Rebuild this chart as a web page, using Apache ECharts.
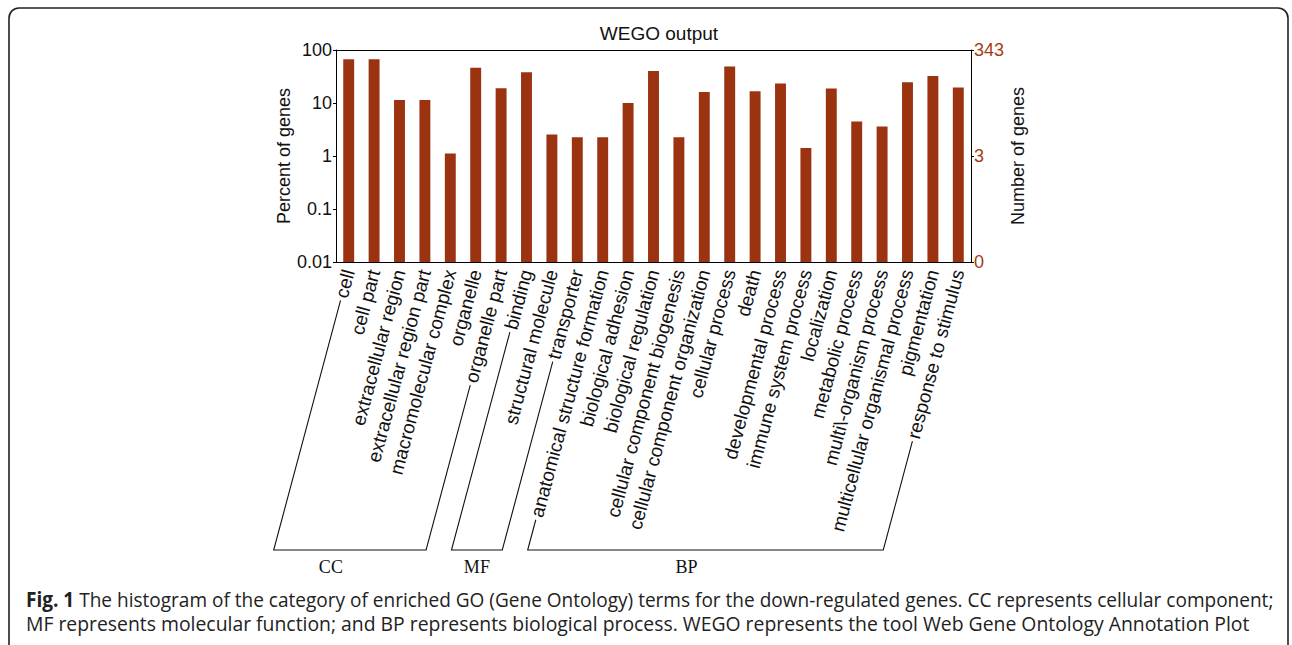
<!DOCTYPE html>
<html><head><meta charset="utf-8">
<script src="https://cdn.jsdelivr.net/npm/echarts@6/dist/echarts.min.js"></script>
<style>html,body{margin:0;padding:0;background:#fff}#c{width:1292px;height:645px}</style>
</head><body><div id="c"></div>
<script>
// ---------------- data ----------------
const categories = [
  'cell','cell part','extracellular region','extracellular region part','macromolecular complex',
  'organelle','organelle part','binding','structural molecule','transporter',
  'anatomical structure formation','biological adhesion','biological regulation',
  'cellular component biogenesis','cellular component organization','cellular process','death',
  'developmental process','immune system process','localization','metabolic process',
  'multi\\-organism process','multicellular organismal process','pigmentation','response to stimulus'
];
const percentValues = [
  67, 67, 11.4, 11.4, 1.12,
  46, 19, 38, 2.55, 2.27,
  2.27, 10.0, 40,
  2.27, 16.1, 49, 16.6,
  23.4, 1.42, 18.7, 4.5,
  3.6, 24.5, 32.3, 19.7
];
const leftTickLabels = ['0.01','0.1','1','10','100'];
const rightTickLabels = ['0','3','343'];
const groupNames = ['CC','MF','BP'];
const groupFirst = [0, 7, 10];
const groupLast = [6, 9, 24];
const titleText = 'WEGO output';
const leftAxisName = 'Percent of genes';
const rightAxisName = 'Number of genes';
const captionBold = 'Fig. 1';
const captionLine1 = ' The histogram of the category of enriched GO (Gene Ontology) terms for the down-regulated genes. CC represents cellular component;';
const captionLine2 = 'MF represents molecular function; and BP represents biological process. WEGO represents the tool Web Gene Ontology Annotation Plot';

// ---------------- layout / style ----------------
const FONT = '"Liberation Sans", Arial, Helvetica, sans-serif';
const SERIF = '"Liberation Serif", "Times New Roman", serif';
const CAPFONT = '"Open Sans", "Noto Sans", sans-serif';
const LABEL_SIZE = 19, ROT = 75, LABEL_MARGIN = 8;
const BAR_COLOR = '#9b3311', RIGHT_COLOR = '#a63c14';
const AXIS_MIN = 0.01, AXIS_MAX = 100;
const chart = echarts.init(document.getElementById('c'), null, {renderer: 'svg'});

const axisLineStyle = {lineStyle: {color: '#000', width: 1}};
const option = {
  animation: false,
  backgroundColor: '#fff',
  title: {text: titleText, left: 654, top: 19, textAlign: 'center',
    textStyle: {fontFamily: FONT, fontSize: 19, fontWeight: 'normal', color: '#111'}},
  grid: {left: 336, right: 321, top: 50, bottom: 383},
  xAxis: [{
    type: 'category', data: categories, position: 'bottom',
    axisLine: axisLineStyle,
    axisTick: {inside: true, length: 3, lineStyle: {color: '#000'}},
    axisLabel: {interval: 0, rotate: ROT, margin: LABEL_MARGIN, fontSize: LABEL_SIZE, fontFamily: FONT, color: '#111'}
  }, {
    type: 'category', data: categories, position: 'top',
    axisLine: axisLineStyle,
    axisTick: {inside: true, length: 3, lineStyle: {color: '#000'}},
    axisLabel: {show: false}
  }],
  yAxis: [{
    type: 'log', logBase: 10, min: AXIS_MIN, max: AXIS_MAX, position: 'left',
    name: leftAxisName, nameLocation: 'middle', nameGap: 29, nameRotate: 90,
    nameTextStyle: {fontFamily: FONT, fontSize: 18, color: '#111'},
    axisLine: {show: true, lineStyle: {color: '#000', width: 1}},
    axisTick: {show: true, length: 3, lineStyle: {color: '#000'}},
    axisLabel: {margin: 4, fontFamily: FONT, fontSize: 18, color: '#111',
      formatter: v => leftTickLabels[Math.round(Math.log10(v)) + 2]},
    splitLine: {show: false}
  }, {
    type: 'value', min: 0, max: 4, interval: 2, position: 'right',
    name: rightAxisName, nameLocation: 'middle', nameGap: 38, nameRotate: 90,
    nameTextStyle: {fontFamily: FONT, fontSize: 18, color: '#111'},
    axisLine: {show: true, lineStyle: {color: '#000', width: 1}},
    axisTick: {show: true, length: 3, lineStyle: {color: '#000'}},
    axisLabel: {margin: 3, fontFamily: FONT, fontSize: 18, color: RIGHT_COLOR,
      formatter: v => rightTickLabels[Math.round(v / 2)]},
    splitLine: {show: false}
  }],
  series: [{
    type: 'custom', xAxisIndex: 0, yAxisIndex: 0,
    data: percentValues.map((v, i) => [i, v]),
    encode: {x: 0, y: 1},
    renderItem: (params, api) => {
      const i = api.value(0), v = api.value(1);
      const top = api.coord([i, v]);
      const base = api.coord([i, AXIS_MIN]);
      const w = params.coordSys.width / categories.length * 0.43;
      return {type: 'rect',
        shape: {x: top[0] - w / 2, y: top[1], width: w, height: base[1] - top[1]},
        style: {fill: BAR_COLOR}};
    }
  }]
};
chart.setOption(option);

// ---------------- annotations (brackets, caption, frame) ----------------
const ctx = document.createElement('canvas').getContext('2d');
ctx.font = LABEL_SIZE + 'px ' + FONT;
const th = ROT * Math.PI / 180, ux = -Math.cos(th), uy = Math.sin(th);
const axisY = chart.convertToPixel({yAxisIndex: 0}, AXIS_MIN);
const GAP = 3, BRACKET_Y = 550, GROUP_LABEL_Y = 567;
const groupShift = [-19, 0, -19];
function labelStart(i) {
  const x = chart.convertToPixel({xAxisIndex: 0}, i);
  const w = ctx.measureText(categories[i]).width + GAP;
  return [x + ux * w, axisY + LABEL_MARGIN + uy * w];
}
function toBottom(p) {
  const t = (BRACKET_Y - p[1]) / uy;
  return [p[0] + ux * t, BRACKET_Y];
}
const graphics = [];
groupNames.forEach((g, k) => {
  const p1 = labelStart(groupFirst[k]), p2 = labelStart(groupLast[k]);
  const b1 = toBottom(p1), b2 = toBottom(p2);
  graphics.push({type: 'polyline', shape: {points: [p1, b1, b2, p2]},
    style: {stroke: '#111', lineWidth: 1.1, fill: null}});
  graphics.push({type: 'text', x: (b1[0] + b2[0]) / 2 + groupShift[k], y: GROUP_LABEL_Y,
    style: {text: g, font: '18px ' + SERIF, fill: '#111', align: 'center', verticalAlign: 'middle'}});
});
// caption
const CAP_SIZE = 20.5;
ctx.font = 'bold ' + CAP_SIZE + 'px ' + CAPFONT;
const wb = ctx.measureText(captionBold).width;
ctx.font = CAP_SIZE + 'px ' + CAPFONT;
const w1 = ctx.measureText(captionLine1).width;
const w2 = ctx.measureText(captionLine2).width;
const sx1 = 1249 / (wb + w1);
const sx2 = 1224 / w2;
graphics.push({type: 'text', x: 26, y: 599, scaleX: sx1, scaleY: 1,
  style: {text: '{b|' + captionBold + '}' + captionLine1, font: CAP_SIZE + 'px ' + CAPFONT, fill: '#222',
    verticalAlign: 'middle', rich: {b: {fontWeight: 'bold', fontFamily: CAPFONT, fontSize: CAP_SIZE, fill: '#222'}}}});
graphics.push({type: 'text', x: 26, y: 623, scaleX: sx2, scaleY: 1,
  style: {text: captionLine2, font: CAP_SIZE + 'px ' + CAPFONT, fill: '#222', verticalAlign: 'middle'}});
// frame
graphics.push({type: 'rect', shape: {x: 9, y: 8, width: 1279, height: 700, r: 10},
  style: {stroke: '#222', lineWidth: 1.6, fill: null}, silent: true});
chart.setOption({graphic: graphics});
</script></body></html>
